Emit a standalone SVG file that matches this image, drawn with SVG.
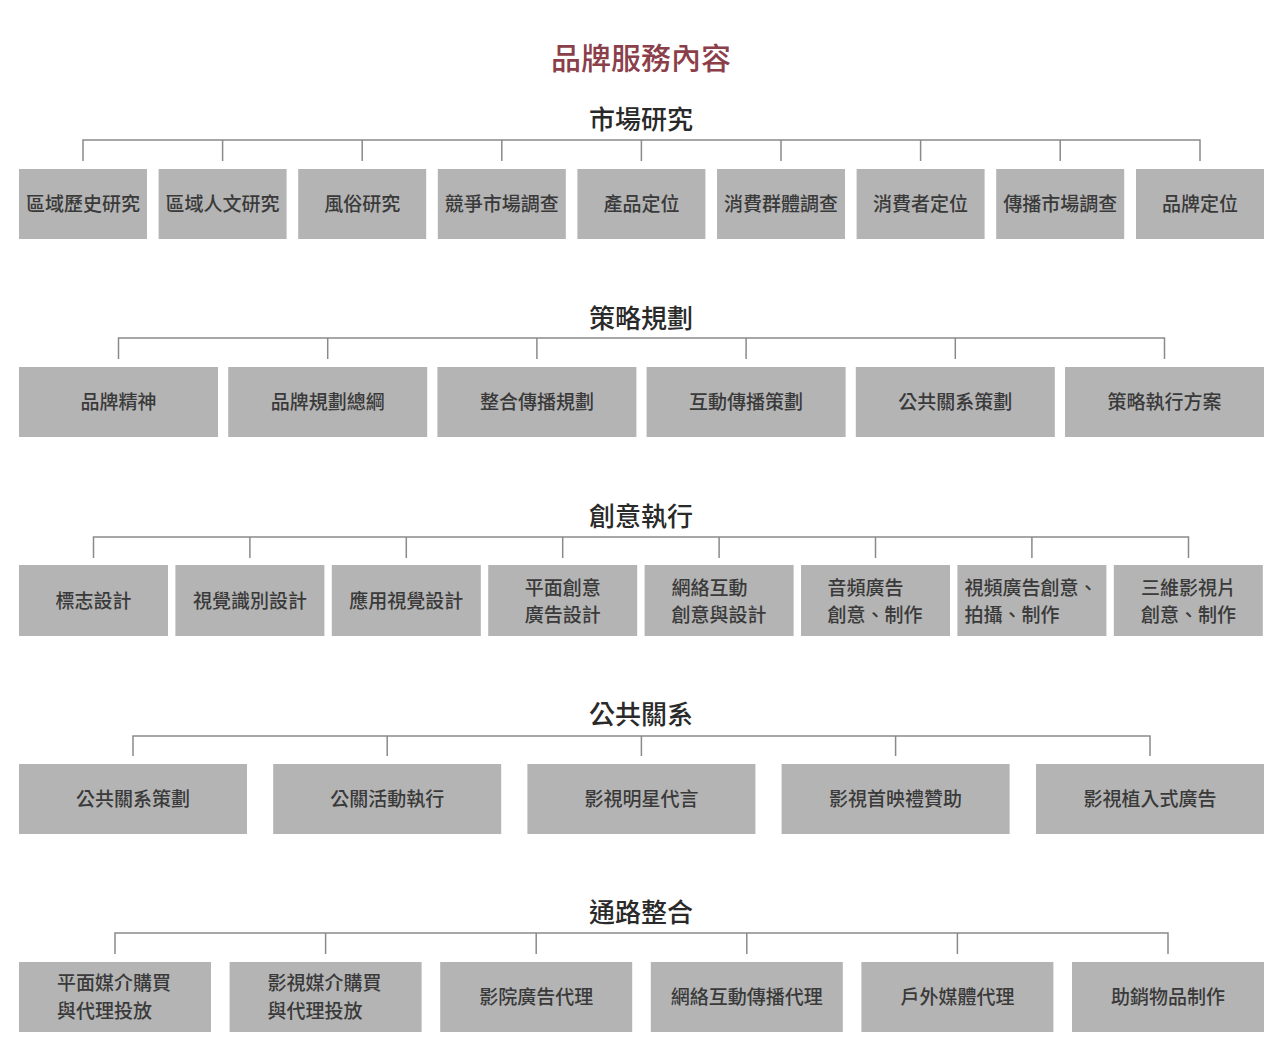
<svg xmlns="http://www.w3.org/2000/svg" width="1280" height="1058" viewBox="0 0 1280 1058">
<style>
.bg{fill:#ffffff}
.box{fill:#b4b4b4}
.t{font-family:"Noto Sans CJK TC","Noto Sans CJK SC",sans-serif;font-size:19px;fill:#3a3a3a;text-anchor:middle;font-weight:500}
.tl{font-family:"Noto Sans CJK TC","Noto Sans CJK SC",sans-serif;font-size:19px;fill:#3a3a3a;text-anchor:start;font-weight:500}
.h{font-family:"Noto Sans CJK TC","Noto Sans CJK SC",sans-serif;font-size:26px;fill:#2a2a2a;text-anchor:middle;font-weight:500}
.title{font-family:"Noto Sans CJK TC","Noto Sans CJK SC",sans-serif;font-size:30px;fill:#8a3f4a;text-anchor:middle;font-weight:500}
.c{fill:none;stroke:#8a8a8a;stroke-width:1.5}
</style>
<rect class="bg" x="0" y="0" width="1280" height="1058"/>
<text id="title" class="title" x="641" y="69">品牌服務內容</text>

<g id="connectors">
<path class="c" d="M83,161V140H1200V161 M222.6,140V161 M362.2,140V161 M501.8,140V161 M641.4,140V161 M781,140V161 M920.6,140V161 M1060.2,140V161"/>
<path class="c" d="M118.5,359V338H1164.5V359 M327.7,338V359 M536.9,338V359 M746.1,338V359 M955.3,338V359"/>
<path class="c" d="M93.5,558V537H1188.5V558 M249.9,537V558 M406.3,537V558 M562.7,537V558 M719.1,537V558 M875.5,537V558 M1031.9,537V558"/>
<path class="c" d="M133,756V736H1150V756 M387.2,736V756 M641.4,736V756 M895.6,736V756"/>
<path class="c" d="M115,954V933H1168V954 M325.6,933V954 M536.2,933V954 M746.8,933V954 M957.4,933V954"/>
</g>

<g id="h1"><text class="h" x="641" y="129">市場研究</text></g>
<g id="n1_1"><rect class="box" x="19" y="169" width="128" height="70"/><text class="t" x="83" y="211">區域歷史研究</text></g>
<g id="n1_2"><rect class="box" x="158.6" y="169" width="128" height="70"/><text class="t" x="222.6" y="211">區域人文研究</text></g>
<g id="n1_3"><rect class="box" x="298.2" y="169" width="128" height="70"/><text class="t" x="362.2" y="211">風俗研究</text></g>
<g id="n1_4"><rect class="box" x="437.8" y="169" width="128" height="70"/><text class="t" x="501.8" y="211">競爭市場調查</text></g>
<g id="n1_5"><rect class="box" x="577.4" y="169" width="128" height="70"/><text class="t" x="641.4" y="211">產品定位</text></g>
<g id="n1_6"><rect class="box" x="717" y="169" width="128" height="70"/><text class="t" x="781" y="211">消費群體調查</text></g>
<g id="n1_7"><rect class="box" x="856.6" y="169" width="128" height="70"/><text class="t" x="920.6" y="211">消費者定位</text></g>
<g id="n1_8"><rect class="box" x="996.2" y="169" width="128" height="70"/><text class="t" x="1060.2" y="211">傳播市場調查</text></g>
<g id="n1_9"><rect class="box" x="1136" y="169" width="128" height="70"/><text class="t" x="1200" y="211">品牌定位</text></g>

<g id="h2"><text class="h" x="641" y="328">策略規劃</text></g>
<g id="n2_1"><rect class="box" x="19" y="367" width="199" height="70"/><text class="t" x="118.5" y="409">品牌精神</text></g>
<g id="n2_2"><rect class="box" x="228.2" y="367" width="199" height="70"/><text class="t" x="327.7" y="409">品牌規劃總綱</text></g>
<g id="n2_3"><rect class="box" x="437.4" y="367" width="199" height="70"/><text class="t" x="536.9" y="409">整合傳播規劃</text></g>
<g id="n2_4"><rect class="box" x="646.6" y="367" width="199" height="70"/><text class="t" x="746.1" y="409">互動傳播策劃</text></g>
<g id="n2_5"><rect class="box" x="855.8" y="367" width="199" height="70"/><text class="t" x="955.3" y="409">公共關系策劃</text></g>
<g id="n2_6"><rect class="box" x="1065" y="367" width="199" height="70"/><text class="t" x="1164.5" y="409">策略執行方案</text></g>

<g id="h3"><text class="h" x="641" y="526">創意執行</text></g>
<g id="n3_1"><rect class="box" x="19" y="565" width="149" height="71"/><text class="t" x="93.5" y="608">標志設計</text></g>
<g id="n3_2"><rect class="box" x="175.4" y="565" width="149" height="71"/><text class="t" x="249.9" y="608">視覺識別設計</text></g>
<g id="n3_3"><rect class="box" x="331.8" y="565" width="149" height="71"/><text class="t" x="406.3" y="608">應用視覺設計</text></g>
<g id="n3_4"><rect class="box" x="488.2" y="565" width="149" height="71"/><text class="tl" x="524.7" y="594.5">平面創意</text><text class="tl" x="524.7" y="622.2">廣告設計</text></g>
<g id="n3_5"><rect class="box" x="644.6" y="565" width="149" height="71"/><text class="tl" x="671.6" y="594.5">網絡互動</text><text class="tl" x="671.6" y="622.2">創意與設計</text></g>
<g id="n3_6"><rect class="box" x="801" y="565" width="149" height="71"/><text class="tl" x="827.5" y="594.5">音頻廣告</text><text class="tl" x="827.5" y="622.2">創意、制作</text></g>
<g id="n3_7"><rect class="box" x="957.4" y="565" width="149" height="71"/><text class="tl" x="964.5" y="594.5">視頻廣告創意、</text><text class="tl" x="964.5" y="622.2">拍攝、制作</text></g>
<g id="n3_8"><rect class="box" x="1113.8" y="565" width="149" height="71"/><text class="tl" x="1141" y="594.5">三維影視片</text><text class="tl" x="1141" y="622.2">創意、制作</text></g>

<g id="h4"><text class="h" x="641" y="724">公共關系</text></g>
<g id="n4_1"><rect class="box" x="19" y="764" width="228" height="70"/><text class="t" x="133" y="806">公共關系策劃</text></g>
<g id="n4_2"><rect class="box" x="273.2" y="764" width="228" height="70"/><text class="t" x="387.2" y="806">公關活動執行</text></g>
<g id="n4_3"><rect class="box" x="527.4" y="764" width="228" height="70"/><text class="t" x="641.4" y="806">影視明星代言</text></g>
<g id="n4_4"><rect class="box" x="781.6" y="764" width="228" height="70"/><text class="t" x="895.6" y="806">影視首映禮贊助</text></g>
<g id="n4_5"><rect class="box" x="1036" y="764" width="228" height="70"/><text class="t" x="1150" y="806">影視植入式廣告</text></g>

<g id="h5"><text class="h" x="641" y="922">通路整合</text></g>
<g id="n5_1"><rect class="box" x="19" y="962" width="192" height="70"/><text class="tl" x="57" y="990">平面媒介購買</text><text class="tl" x="57" y="1017.7">與代理投放</text></g>
<g id="n5_2"><rect class="box" x="229.6" y="962" width="192" height="70"/><text class="tl" x="267.6" y="990">影視媒介購買</text><text class="tl" x="267.6" y="1017.7">與代理投放</text></g>
<g id="n5_3"><rect class="box" x="440.2" y="962" width="192" height="70"/><text class="t" x="536.2" y="1004">影院廣告代理</text></g>
<g id="n5_4"><rect class="box" x="650.8" y="962" width="192" height="70"/><text class="t" x="746.8" y="1004">網絡互動傳播代理</text></g>
<g id="n5_5"><rect class="box" x="861.4" y="962" width="192" height="70"/><text class="t" x="957.4" y="1004">戶外媒體代理</text></g>
<g id="n5_6"><rect class="box" x="1072" y="962" width="192" height="70"/><text class="t" x="1168" y="1004">助銷物品制作</text></g>
</svg>
